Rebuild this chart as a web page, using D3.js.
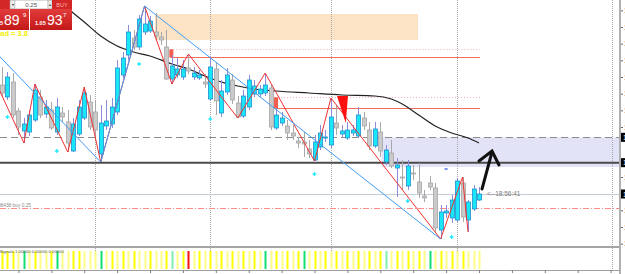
<!DOCTYPE html>
<html><head><meta charset="utf-8">
<script src="https://cdn.jsdelivr.net/npm/d3@7"></script>
<style>html,body{margin:0;padding:0;background:#fff;overflow:hidden}svg{display:block;font-family:"Liberation Sans",Arial,sans-serif}</style>
</head><body>
<svg id="c" width="625" height="274"></svg>
<script>
// ---- candle data (one per bar, oldest first) ----
const opens  = [1.06226,1.06190,1.06235,1.06148,1.06088,1.06085,1.06121,1.06190,1.06139,1.06151,1.06085,1.06142,1.06115,1.06028,1.06079,1.06127,1.06175,1.06145,1.06019,1.06103,1.06109,1.06145,1.06256,1.06316,1.06367,1.06340,1.06385,1.06388,1.06385,1.06370,1.06340,1.06244,1.06256,1.06250,1.06277,1.06250,1.06247,1.06235,1.06184,1.06274,1.06142,1.06205,1.06241,1.06172,1.06133,1.06160,1.06199,1.06199,1.06202,1.06217,1.06097,1.06112,1.06103,1.06082,1.06058,1.06055,1.06034,1.06001,1.06040,1.06067,1.06046,1.06112,1.06079,1.06067,1.06082,1.06073,1.06127,1.06091,1.06043,1.06085,1.05995,1.06022,1.05977,1.05950,1.05923,1.05962,1.05935,1.05893,1.05932,1.05917,1.05791,1.05842,1.05827,1.05821,1.05932,1.05821,1.05854,1.05881];
const highs  = [1.06280,1.06265,1.06262,1.06157,1.06127,1.06151,1.06229,1.06211,1.06181,1.06175,1.06187,1.06160,1.06151,1.06127,1.06181,1.06220,1.06196,1.06181,1.06166,1.06181,1.06187,1.06301,1.06325,1.06406,1.06391,1.06436,1.06463,1.06433,1.06442,1.06385,1.06391,1.06316,1.06307,1.06301,1.06319,1.06280,1.06271,1.06259,1.06307,1.06295,1.06241,1.06277,1.06259,1.06193,1.06211,1.06256,1.06241,1.06226,1.06262,1.06226,1.06157,1.06145,1.06121,1.06106,1.06070,1.06085,1.06061,1.06076,1.06106,1.06091,1.06187,1.06166,1.06106,1.06115,1.06106,1.06160,1.06145,1.06115,1.06115,1.06115,1.06046,1.06061,1.06007,1.06001,1.06001,1.05986,1.05992,1.05911,1.05953,1.05932,1.05866,1.05866,1.05896,1.05947,1.05950,1.05881,1.05926,1.05920];
const lows   = [1.06190,1.06181,1.06127,1.06076,1.06052,1.06073,1.06115,1.06127,1.06127,1.06091,1.06076,1.06115,1.06025,1.06025,1.06073,1.06121,1.06091,1.06061,1.05995,1.06091,1.06097,1.06136,1.06247,1.06301,1.06331,1.06331,1.06376,1.06382,1.06361,1.06346,1.06241,1.06229,1.06247,1.06241,1.06259,1.06241,1.06241,1.06217,1.06178,1.06136,1.06130,1.06196,1.06169,1.06127,1.06127,1.06151,1.06190,1.06190,1.06193,1.06091,1.06091,1.06103,1.06061,1.06061,1.06037,1.06010,1.06007,1.05998,1.06031,1.06055,1.06037,1.06076,1.06070,1.06061,1.06073,1.06067,1.06091,1.06031,1.06037,1.06010,1.05986,1.05977,1.05890,1.05911,1.05911,1.05941,1.05887,1.05875,1.05911,1.05782,1.05764,1.05827,1.05812,1.05815,1.05815,1.05785,1.05848,1.05878];
const closes = [1.06202,1.06250,1.06136,1.06100,1.06109,1.06136,1.06211,1.06136,1.06160,1.06097,1.06160,1.06130,1.06052,1.06109,1.06160,1.06202,1.06100,1.06091,1.06112,1.06118,1.06160,1.06277,1.06307,1.06385,1.06340,1.06424,1.06409,1.06418,1.06373,1.06361,1.06244,1.06283,1.06274,1.06274,1.06268,1.06262,1.06256,1.06229,1.06280,1.06178,1.06208,1.06256,1.06181,1.06130,1.06193,1.06241,1.06223,1.06214,1.06226,1.06100,1.06136,1.06127,1.06082,1.06073,1.06052,1.06049,1.06019,1.06055,1.06082,1.06070,1.06130,1.06097,1.06088,1.06091,1.06091,1.06136,1.06103,1.06043,1.06094,1.06028,1.06031,1.05983,1.05986,1.05947,1.05983,1.05959,1.05902,1.05887,1.05920,1.05797,1.05845,1.05848,1.05881,1.05938,1.05830,1.05875,1.05914,1.05899];

// signal histogram colour code per bar: Y bright yellow, p pale yellow, G green, L light green, R red
const signalCodes = "YYYpGpYppYGppYYpppGpYpYpYppYppYLpYRpYpYpYpYpYpYpGpYpYpYGpYpYpYpYpYpYpYLpYpYpYpGpYpYpYp";

// moving average (bar index, price)
const maIndex = [10,12,13,15,18,21,24,27,31,34,37,40,43,46,50,56,62,68,71,73,76,79,82,85,87];
const maValue = [1.06475,1.06457,1.06442,1.06415,1.06373,1.06343,1.06325,1.06313,1.06289,1.06274,1.06253,1.06235,1.06223,1.06214,1.06208,1.06202,1.06196,1.06193,1.06184,1.06169,1.06136,1.06103,1.06082,1.06067,1.06052];

// zigzag pivots
const zigIndex = [-1,4,6,12,15,18,26,31,34,43,48,57,60,80,84,85];
const zigValue = [1.06229,1.06052,1.06229,1.06025,1.06220,1.05995,1.06463,1.06229,1.06319,1.06127,1.06262,1.05998,1.06187,1.05764,1.05950,1.05785];

// blue trend lines [i0, p0, i1, p1]
const trendLines = [[-0.5,1.06313,18,1.05995],[18,1.05995,26,1.06463],[26,1.06463,80,1.05764]];

// cyan fractal dots
const dotIndex = [1,10,25,38,57,74,82];
const dotValue = [1.06130,1.06028,1.06289,1.06124,1.05959,1.05878,1.05770];

// levels
const dashedLevel = 1.06069;
const blackLevel = 1.05993;
const bidPrice = 1.05899;
const askPrice = 1.05937;
const buyOrderPrice = 1.05856;
const zoneBox = {i0:69.2, top:1.06069, bottom:1.05980};
const supplyBox = {i0:27.9, i1:75.9, top:1.06439, bottom:1.06361};
const redLevels = [{i0:30.7, price:1.06309, dotted:1.06333},{i0:49.8, price:1.06156, dotted:1.06189}];
const redLevelEnd = 87.2;
const arrowTri = {iL:61.1, iR:63.1, iTip:62.7, top:1.06193, tip:1.06112};
const orderMark = {i:81, price:1.05974};
const separators = [17,38,60,83,111.2];
const timeTickStart = 3, timeTickStep = 6;
const priceTicks = [1.0645,1.0640,1.0635,1.0630,1.0625,1.0620,1.0615,1.0610,1.0605,1.0600,1.0595,1.0590,1.0585,1.0580,1.0575];

const svg = d3.select('#c');
const x = d3.scaleLinear().domain([0, 87]).range([2, 479]);
const y = d3.scaleLinear().domain([1.06481, 1.05737]).range([0, 248]);
const plotRight = 620;

const main = svg.append('g');

// supply zone (peach)
main.append('rect').attr('x', x(supplyBox.i0)).attr('y', y(supplyBox.top))
  .attr('width', x(supplyBox.i1) - x(supplyBox.i0)).attr('height', y(supplyBox.bottom) - y(supplyBox.top))
  .attr('fill', '#fde3c6');
// lavender zone
main.append('rect').attr('x', x(zoneBox.i0)).attr('y', y(zoneBox.top))
  .attr('width', plotRight - x(zoneBox.i0)).attr('height', y(zoneBox.bottom) - y(zoneBox.top))
  .attr('fill', '#e3e3f7');

// separators
main.selectAll('line.sep').data(separators).join('line').attr('class','sep')
  .attr('x1', d => Math.round(x(d)) + 0.5).attr('x2', d => Math.round(x(d)) + 0.5)
  .attr('y1', 0).attr('y2', 270).attr('stroke', '#a8a8a8').attr('stroke-dasharray', '1,1');

// red levels
redLevels.forEach(l => {
  main.append('line').attr('x1', x(l.i0)).attr('x2', x(redLevelEnd))
    .attr('y1', Math.round(y(l.dotted)) + 0.5).attr('y2', Math.round(y(l.dotted)) + 0.5)
    .attr('stroke', '#f4b0b0').attr('stroke-dasharray', '1,2');
  main.append('line').attr('x1', x(l.i0)).attr('x2', x(redLevelEnd))
    .attr('y1', Math.round(y(l.price)) + 0.5).attr('y2', Math.round(y(l.price)) + 0.5)
    .attr('stroke', '#f26b5b').attr('stroke-width', 1);
  main.append('rect').attr('x', x(l.i0) - 1).attr('y', y(l.dotted))
    .attr('width', 4).attr('height', y(l.price) - y(l.dotted)).attr('fill', '#f25c4c');
});

// horizontal levels
main.append('line').attr('x1', 0).attr('x2', plotRight)
  .attr('y1', Math.round(y(dashedLevel)) + 0.5).attr('y2', Math.round(y(dashedLevel)) + 0.5)
  .attr('stroke', '#8c8c8c').attr('stroke-dasharray', '7,4');
main.append('line').attr('x1', 0).attr('x2', plotRight)
  .attr('y1', y(blackLevel)).attr('y2', y(blackLevel))
  .attr('stroke', '#4a4a4a').attr('stroke-width', 2);
main.append('line').attr('x1', 0).attr('x2', plotRight)
  .attr('y1', Math.round(y(bidPrice)) + 0.5).attr('y2', Math.round(y(bidPrice)) + 0.5)
  .attr('stroke', '#c4ccd6');
main.append('line').attr('x1', 0).attr('x2', plotRight)
  .attr('y1', Math.round(y(buyOrderPrice)) + 0.5).attr('y2', Math.round(y(buyOrderPrice)) + 0.5)
  .attr('stroke', '#ff8a8a').attr('stroke-dasharray', '6,2,1,2');

// MA
main.append('path').datum(maIndex.map((d, k) => [d, maValue[k]]))
  .attr('d', d3.line().x(d => x(d[0])).y(d => y(d[1])).curve(d3.curveMonotoneX))
  .attr('fill', 'none').attr('stroke', '#222').attr('stroke-width', 1.2);

// candles
const bars = d3.range(opens.length).map(i => ({i, o: opens[i], h: highs[i], l: lows[i], c: closes[i]}));
const cg = main.append('g');
cg.selectAll('line.wick').data(bars).join('line').attr('class', 'wick')
  .attr('x1', d => Math.round(x(d.i)) + 0.5).attr('x2', d => Math.round(x(d.i)) + 0.5)
  .attr('y1', d => y(d.h)).attr('y2', d => y(d.l))
  .attr('stroke', d => d.c >= d.o ? '#8c8cd8' : '#a8a8a8');
cg.selectAll('rect.body').data(bars).join('rect').attr('class', 'body')
  .attr('x', d => Math.round(x(d.i)) - 1.5).attr('width', 4)
  .attr('y', d => y(Math.max(d.o, d.c))).attr('height', d => Math.max(1, Math.abs(y(d.o) - y(d.c))))
  .attr('fill', d => d.c >= d.o ? '#19e6f7' : '#cacaca')
  .attr('stroke', d => d.c >= d.o ? '#1f8fd0' : '#a6a6a6').attr('stroke-width', 0.8);

// zigzag
main.append('path').datum(zigIndex.map((d, k) => [d, zigValue[k]]))
  .attr('d', d3.line().x(d => x(d[0])).y(d => y(d[1])))
  .attr('fill', 'none').attr('stroke', '#f03030').attr('stroke-width', 1);

// blue trend lines
main.selectAll('line.tl').data(trendLines).join('line').attr('class', 'tl')
  .attr('x1', d => x(d[0])).attr('y1', d => y(d[1])).attr('x2', d => x(d[2])).attr('y2', d => y(d[3]))
  .attr('stroke', '#3f9cf5').attr('stroke-width', 1);

// red arrow triangle
main.append('path').attr('d', `M${x(arrowTri.iL)},${y(arrowTri.top)}L${x(arrowTri.iR)},${y(arrowTri.top)}L${x(arrowTri.iTip)},${y(arrowTri.tip)}Z`)
  .attr('fill', '#ff1010');

// cyan dots
main.selectAll('path.dot').data(dotIndex.map((d, k) => [d, dotValue[k]])).join('path').attr('class', 'dot')
  .attr('transform', d => `translate(${x(d[0])},${y(d[1])})`)
  .attr('d', d3.symbol().type(d3.symbolCross).size(8)).attr('fill', '#20e8f8');

// order mark
main.append('line').attr('x1', x(orderMark.i) - 1.5).attr('x2', x(orderMark.i) + 1.5)
  .attr('y1', y(orderMark.price)).attr('y2', y(orderMark.price)).attr('stroke', '#5070f0').attr('stroke-width', 1.5);

// hand-drawn black arrow (annotation)
const ar = main.append('g').attr('stroke', '#111').attr('stroke-width', 3).attr('fill', 'none').attr('stroke-linecap', 'round');
ar.append('line').attr('x1', x(87) + 3).attr('y1', y(1.05914)).attr('x2', x(87) + 13).attr('y2', y(1.06025));
ar.append('polyline').attr('points', `${x(87)},${y(1.05998)} ${x(87) + 13},${y(1.06028)} ${x(87) + 20},${y(1.05986)}`);

// current time label
main.append('text').attr('x', x(87) + 8).attr('y', y(bidPrice) + 2).attr('font-size', 6.5).attr('fill', '#7a7a7a').text('<--18:56:41');

// order label
main.append('text').attr('x', 31).attr('y', y(buyOrderPrice) - 1).attr('text-anchor', 'end')
  .attr('font-size', 4.8).attr('fill', '#8a8a8a').text('#1008438 buy 0.25');

// ---- indicator pane ----
const ind = svg.append('g');
ind.append('rect').attr('x', 0).attr('y', 246).attr('width', plotRight).attr('height', 2).attr('fill', '#a4a4a4');
const colorMap = {Y: '#ffff00', p: '#ffff88', G: '#10e070', L: '#80f0b0', R: '#ff1010'};
ind.selectAll('rect.sig').data(bars).join('rect').attr('class', 'sig')
  .attr('x', d => Math.round(x(d.i)) - 0.5).attr('width', 2).attr('y', 251).attr('height', 18)
  .attr('fill', d => colorMap[signalCodes[d.i]] || '#ffff88');
ind.append('text').attr('x', 64).attr('y', 253).attr('text-anchor', 'end').attr('font-size', 4.3).attr('fill', '#555').text('Signals 1.00000 0.00000 0.00000');

// bottom time axis
const tAxis = d3.axisBottom(x).tickValues(d3.range(timeTickStart, 112, timeTickStep)).tickSize(3).tickFormat('');
const tg = svg.append('g').attr('transform', 'translate(0,270)').call(tAxis);
tg.select('.domain').attr('stroke', '#a0a0a0').attr('d', `M0,0.5H${plotRight}`);
tg.selectAll('.tick line').attr('stroke', '#808080');

// right border and price axis
svg.append('rect').attr('x', plotRight - 1).attr('y', 0).attr('width', 2).attr('height', 274).attr('fill', '#b0b0b0');
const marked = [dashedLevel, blackLevel, bidPrice];
const freeTicks = priceTicks.filter(t => marked.every(m => Math.abs(y(t) - y(m)) > 7));
const pAxis = d3.axisRight(y).tickValues(freeTicks).tickSize(2).tickPadding(1).tickFormat(d3.format('.4f'));
const pg = svg.append('g').attr('transform', `translate(${plotRight + 1},0)`).call(pAxis);
pg.select('.domain').remove();
pg.selectAll('text').attr('font-size', 7).attr('fill', '#333');
pg.selectAll('.tick line').attr('stroke', '#666');
marked.forEach(v => {
  const g = svg.append('g').attr('transform', `translate(${plotRight + 1},${y(v)})`);
  g.append('rect').attr('x', 0).attr('y', -4.5).attr('width', 40).attr('height', 9).attr('fill', '#000');
  g.append('text').attr('x', 2).attr('y', 2.5).attr('font-size', 7).attr('fill', '#fff').text(d3.format('.5f')(v));
});

// ---- one-click trading panel ----
const pnl = svg.append('g');
const grad = svg.append('defs').append('linearGradient').attr('id', 'rg').attr('x1', 0).attr('x2', 0).attr('y1', 0).attr('y2', 1);
grad.append('stop').attr('offset', 0).attr('stop-color', '#e23c3c');
grad.append('stop').attr('offset', 1).attr('stop-color', '#c31818');
pnl.append('rect').attr('x', 0).attr('y', 0).attr('width', 10).attr('height', 9).attr('fill', '#d32626');
pnl.append('rect').attr('x', 10).attr('y', 0.5).attr('width', 5).attr('height', 8).attr('fill', '#ececec').attr('stroke', '#a0a0a0').attr('stroke-width', 0.5);
pnl.append('text').attr('x', 12.5).attr('y', 6).attr('text-anchor', 'middle').attr('font-size', 4).attr('fill', '#333').text('▾');
pnl.append('rect').attr('x', 15).attr('y', 0.5).attr('width', 33).attr('height', 8).attr('fill', '#fff').attr('stroke', '#b8b8b8').attr('stroke-width', 0.5);
pnl.append('text').attr('x', 37).attr('y', 6.5).attr('text-anchor', 'end').attr('font-size', 6).attr('fill', '#555').text('0.25');
pnl.append('rect').attr('x', 48).attr('y', 0.5).attr('width', 4).attr('height', 8).attr('fill', '#ececec').attr('stroke', '#a0a0a0').attr('stroke-width', 0.5);
pnl.append('text').attr('x', 50).attr('y', 6).attr('text-anchor', 'middle').attr('font-size', 4).attr('fill', '#333').text('▴');
pnl.append('rect').attr('x', 52).attr('y', 0).attr('width', 20).attr('height', 9).attr('fill', '#d32626');
pnl.append('text').attr('x', 62).attr('y', 6.5).attr('text-anchor', 'middle').attr('font-size', 5.5).attr('fill', '#ffb4b4').text('BUY');
pnl.append('rect').attr('x', 0).attr('y', 9).attr('width', 29).attr('height', 21).attr('fill', 'url(#rg)');
pnl.append('rect').attr('x', 30).attr('y', 9).attr('width', 42).attr('height', 21).attr('fill', 'url(#rg)');
const bidStr = d3.format('.5f')(bidPrice), askStr = d3.format('.5f')(askPrice);
pnl.append('text').attr('x', 3).attr('y', 25).attr('text-anchor', 'end').attr('font-size', 5.5).attr('font-weight', 'bold').attr('fill', '#fff').text(bidStr.slice(0, 4));
pnl.append('text').attr('x', 4).attr('y', 25).attr('font-size', 14).attr('fill', '#fff').text(bidStr.slice(4, 6));
pnl.append('text').attr('x', 23).attr('y', 17).attr('font-size', 6).attr('fill', '#fff').text(bidStr.slice(6));
pnl.append('text').attr('x', 35).attr('y', 25).attr('font-size', 5.5).attr('font-weight', 'bold').attr('fill', '#fff').text(askStr.slice(0, 4));
pnl.append('text').attr('x', 47).attr('y', 25).attr('font-size', 14).attr('fill', '#fff').text(askStr.slice(4, 6));
pnl.append('text').attr('x', 63).attr('y', 17).attr('font-size', 6).attr('fill', '#fff').text(askStr.slice(6));
pnl.append('text').attr('x', 28).attr('y', 36).attr('text-anchor', 'end').attr('font-size', 7.5).attr('font-weight', 'bold').attr('fill', '#f0f000').text('Spread = 3.8');
</script>
</body></html>
